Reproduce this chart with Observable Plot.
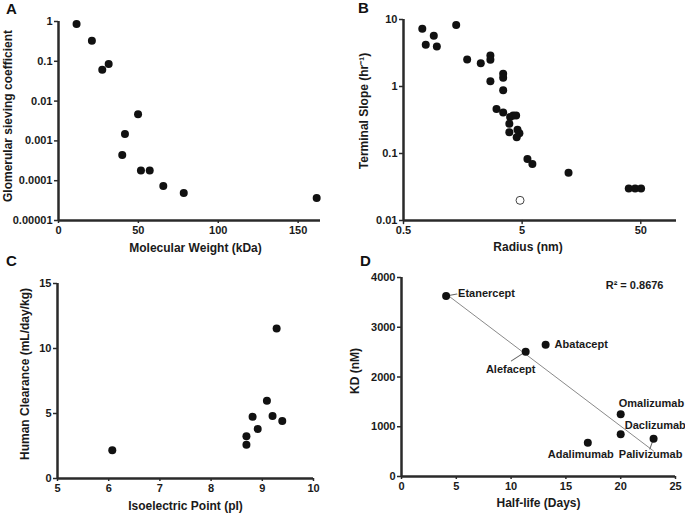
<!DOCTYPE html>
<html><head><meta charset="utf-8">
<script src="https://cdn.jsdelivr.net/npm/d3@7"></script>
<script src="https://cdn.jsdelivr.net/npm/@observablehq/plot@0.6"></script>
<style>
body{margin:0;background:#fff;}
#fig{position:relative;width:685px;height:516px;font-family:"Liberation Sans",Arial,sans-serif;}
#fig > svg{position:absolute;}
</style></head><body><div id="fig"></div>
<script>
// ---------- Panel A ----------
const aMolWeight = [11.3, 20.9, 27.4, 31.4, 39.9, 41.6, 49.8, 51.6, 57.1, 65.6, 78.4, 161.6];
const aSieving   = [0.86, 0.33, 0.061, 0.086, 0.00044, 0.0015, 0.0047, 0.00018, 0.00018, 0.000074, 0.000049, 0.000037];
const aXTicks = [0, 50, 100, 150];
const aYTicks = [1e-5, 1e-4, 1e-3, 1e-2, 1e-1, 1];
const aYTickLabels = ["0.00001", "0.0001", "0.001", "0.01", "0.1", "1"];
const aXTitle = "Molecular Weight (kDa)";
const aYTitle = "Glomerular sieving coefficient";

// ---------- Panel B ----------
const bRadius = [0.72, 0.77, 0.90, 0.955, 1.39, 1.72, 2.24, 2.7, 2.7, 2.7, 3.46, 3.46, 3.46, 3.04, 3.46, 3.96, 3.9, 3.9, 4.2, 4.45, 4.57, 4.74, 4.5, 5.54, 6.1, 12.3, 39.6, 44.8, 50.3];
const bSlope  = [7.3, 4.2, 5.7, 3.95, 8.3, 2.53, 2.23, 2.9, 2.5, 1.2, 1.55, 1.35, 0.88, 0.46, 0.41, 0.35, 0.277, 0.208, 0.37, 0.37, 0.226, 0.20, 0.175, 0.083, 0.070, 0.0515, 0.030, 0.030, 0.030];
const bOpenRadius = [4.8];
const bOpenSlope  = [0.020];
const bXTicks = [0.5, 5, 50];
const bXTickLabels = ["0.5", "5", "50"];
const bYTicks = [0.01, 0.1, 1, 10];
const bYTickLabels = ["0.01", "0.1", "1", "10"];
const bXTitle = "Radius (nm)";
const bYTitle = "Terminal Slope (hr\u207B\u00B9)";

// ---------- Panel C ----------
const cPI = [6.07, 8.69, 8.69, 8.81, 8.91, 9.09, 9.2, 9.28, 9.39];
const cClearance = [2.17, 3.25, 2.6, 4.75, 3.8, 5.98, 4.8, 11.53, 4.42];
const cXTicks = [5, 6, 7, 8, 9, 10];
const cYTicks = [0, 5, 10, 15];
const cXTitle = "Isoelectric Point (pI)";
const cYTitle = "Human Clearance (mL/day/kg)";

// ---------- Panel D ----------
const dNames = ["Etanercept", "Alefacept", "Abatacept", "Omalizumab", "Daclizumab", "Adalimumab", "Palivizumab"];
const dHalfLife = [4.07, 11.33, 13.15, 20.0, 20.0, 17.0, 23.0];
const dKD = [3630, 2510, 2650, 1250, 850, 680, 760];
const dXTicks = [0, 5, 10, 15, 20, 25];
const dYTicks = [0, 1000, 2000, 3000, 4000];
const dXTitle = "Half-life (Days)";
const dYTitle = "KD (nM)";
const dR2Label = "R\u00B2 = 0.8676";

const panelLetters = ["A", "B", "C", "D"];

// ---------- styling / layout ----------
const ink = "#111";
const axisInk = "#2a2a2a";
const baseStyle = {fontFamily: "'Liberation Sans', Arial, sans-serif", fontSize: "11px", fontWeight: "bold", color: "#1a1a1a", background: "transparent", overflow: "visible"};
const titleSize = 12;
const lineShape = {draw(ctx, l) { ctx.moveTo(0, 0); ctx.lineTo(0, -l); }};

function xAxis(xTicks, xFmt) {
  return Plot.axisX({ticks: xTicks, tickSize: 3, tickPadding: 3, label: null, stroke: axisInk, strokeWidth: 1.5, tickFormat: xFmt});
}
function yAxis(yTicks, yFmt) {
  return Plot.axisY({ticks: yTicks, tickSize: 4, tickPadding: 2, label: null, stroke: axisInk, strokeWidth: 1.5, tickFormat: yFmt});
}
function frameLines(xMin, yMin) {
  return [
    Plot.ruleX([xMin], {stroke: axisInk, strokeWidth: 2.5}),
    Plot.ruleY([yMin], {stroke: axisInk, strokeWidth: 2.5})
  ];
}
function titles(xTitle, yTitle, o) {
  return [
    Plot.text([xTitle], {text: d => d, frameAnchor: "bottom", lineAnchor: "middle", textAnchor: "middle", dx: o.xdx, dy: o.xdy, fontSize: titleSize, fontWeight: "bold", fill: "#1a1a1a"}),
    Plot.text([yTitle], {text: d => d, frameAnchor: "left", lineAnchor: "middle", textAnchor: "middle", dx: o.ydx, dy: o.ydy, rotate: -90, fontSize: titleSize, fontWeight: "bold", fill: "#1a1a1a"})
  ];
}

const fig = document.getElementById("fig");
function place(svg, left, top) {
  svg.style.left = left + "px";
  svg.style.top = top + "px";
  fig.appendChild(svg);
}

// Panel A
const aRows = aMolWeight.map((m, i) => ({mw: m, gsc: aSieving[i]}));
place(Plot.plot({
  width: 342, height: 258, marginLeft: 58, marginRight: 22, marginTop: 21, marginBottom: 38,
  style: baseStyle,
  x: {domain: [0, 164]},
  y: {type: "log", domain: [1e-5, 1]},
  marks: [
    xAxis(aXTicks, d => String(d)),
    yAxis(aYTicks, d => aYTickLabels[aYTicks.indexOf(d)]),
    ...frameLines(0, 1e-5),
    Plot.dot(aRows, {x: "mw", y: "gsc", r: 4, fill: ink}),
    ...titles(aXTitle, aYTitle, {xdx: 6, xdy: 28, ydx: -50, ydy: -5})
  ]
}), 0, 0);

// Panel B  (log x axis drawn from tick marks + text marks)
const bRows = bRadius.map((r, i) => ({r, s: bSlope[i]}));
const bOpen = bOpenRadius.map((r, i) => ({r, s: bOpenSlope[i]}));
const bXTickRows = bXTicks.map((t, i) => ({t, label: bXTickLabels[i]}));
place(Plot.plot({
  width: 343, height: 258, marginLeft: 61, marginRight: 9, marginTop: 19, marginBottom: 38,
  style: baseStyle,
  x: {type: "log", domain: [0.5, 100], axis: null},
  y: {type: "log", domain: [0.01, 10]},
  marks: [
    Plot.vector(bXTickRows, {x: "t", frameAnchor: "bottom", anchor: "start", length: 3, rotate: 180, shape: lineShape, stroke: axisInk, strokeWidth: 1.5}),
    Plot.text(bXTickRows, {x: "t", text: "label", frameAnchor: "bottom", lineAnchor: "top", dy: 6, fontSize: 11, fontWeight: "bold", fill: "#1a1a1a"}),
    yAxis(bYTicks, d => bYTickLabels[bYTicks.findIndex(t => Math.abs(t - d) < 1e-9)]),
    ...frameLines(0.5, 0.01),
    Plot.dot(bRows, {x: "r", y: "s", r: 4, fill: ink}),
    Plot.dot(bOpen, {x: "r", y: "s", r: 4, fill: "white", stroke: "#444", strokeWidth: 1}),
    ...titles(bXTitle, bYTitle, {xdx: -12, xdy: 27, ydx: -39, ydy: -9})
  ]
}), 342, 0);

// Panel C
const cRows = cPI.map((p, i) => ({pi: p, cl: cClearance[i]}));
place(Plot.plot({
  width: 342, height: 258, marginLeft: 57, marginRight: 29, marginTop: 25, marginBottom: 38,
  style: baseStyle,
  x: {domain: [5, 10]},
  y: {domain: [0, 15]},
  marks: [
    xAxis(cXTicks, d => String(d)),
    yAxis(cYTicks, d => String(d)),
    ...frameLines(5, 0),
    Plot.dot(cRows, {x: "pi", y: "cl", r: 4, fill: ink}),
    ...titles(cXTitle, cYTitle, {xdx: 0, xdy: 28, ydx: -32, ydy: -7})
  ]
}), 0, 258);

// Panel D
const dRows = dNames.map((n, i) => ({name: n, hl: dHalfLife[i], kd: dKD[i]}));
const labelLayout = {
  Etanercept:  {dx: 12, dy: -2, anchor: "start"},
  Alefacept:   {dx: -15, dy: 18, anchor: "middle"},
  Abatacept:   {dx: 9, dy: 0, anchor: "start"},
  Omalizumab:  {dx: -2, dy: -11, anchor: "start"},
  Daclizumab:  {dx: 4, dy: -9, anchor: "start"},
  Adalimumab:  {dx: -7, dy: 12, anchor: "middle"},
  Palivizumab: {dx: -3, dy: 16, anchor: "middle"}
};
const leaders = {
  Etanercept: {length: 11, rotate: 80},
  Alefacept: {length: 17, rotate: 237},
  Palivizumab: {length: 11, rotate: 200}
};
place(Plot.plot({
  width: 343, height: 258, marginLeft: 59, marginRight: 10, marginTop: 19, marginBottom: 40,
  style: baseStyle,
  x: {domain: [0, 25]},
  y: {domain: [0, 4000]},
  marks: [
    xAxis(dXTicks, d => String(d)),
    yAxis(dYTicks, d => String(d)),
    ...frameLines(0, 0),
    Plot.linearRegressionY(dRows, {x: "hl", y: "kd", ci: 0, stroke: "#8a8a8a", strokeWidth: 1}),
    ...dRows.filter(d => leaders[d.name]).map(d => Plot.vector([d], {x: "hl", y: "kd", anchor: "start", length: leaders[d.name].length, rotate: leaders[d.name].rotate, shape: lineShape, stroke: "#666", strokeWidth: 1})),
    Plot.dot(dRows, {x: "hl", y: "kd", r: 4, fill: ink}),
    ...dRows.map(d => Plot.text([d], {x: "hl", y: "kd", text: "name", dx: labelLayout[d.name].dx, dy: labelLayout[d.name].dy, textAnchor: labelLayout[d.name].anchor, fontSize: 11, fontWeight: "bold", fill: "#1a1a1a"})),
    Plot.text([dR2Label], {text: d => d, frameAnchor: "top-right", lineAnchor: "middle", dx: -12, dy: 8, fontSize: 11, fontWeight: "bold", fill: "#1a1a1a"}),
    ...titles(dXTitle, dYTitle, {xdx: 0, xdy: 27, ydx: -46, ydy: -6})
  ]
}), 342, 258);

// Panel letters
const letterPos = [[6, 13.5], [358, 13], [6, 265.5], [360, 265.5]];
const ov = d3.select(fig).append("svg").attr("width", 685).attr("height", 516).style("left", "0px").style("top", "0px").style("pointer-events", "none");
ov.selectAll("text").data(panelLetters).join("text")
  .attr("x", (d, i) => letterPos[i][0]).attr("y", (d, i) => letterPos[i][1])
  .attr("font-family", "'Liberation Sans', Arial, sans-serif").attr("font-weight", "bold").attr("font-size", 15).attr("fill", "#111")
  .text(d => d);
</script></body></html>
